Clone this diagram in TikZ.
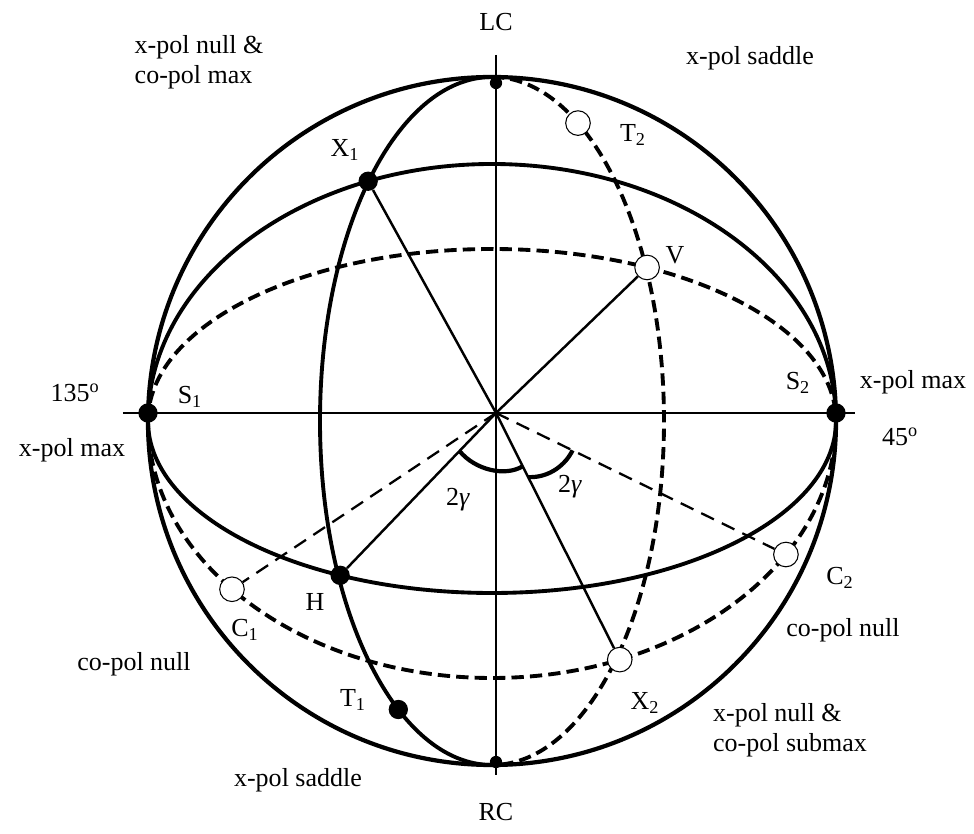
\documentclass[tikz,border=0pt]{standalone}
\usepackage{fontspec}
\setmainfont{Liberation Serif}
\usetikzlibrary{calc}

\begin{document}
\begin{tikzpicture}[
    x=0.02cm, y=0.02cm,
    font=\fontsize{14.8}{17}\selectfont,
    rim/.style={line width=2.4pt},
    front/.style={line width=2.2pt},
    back/.style={line width=2.2pt, dash pattern=on 7pt off 3.5pt},
    axis/.style={line width=1.6pt},
    spoke/.style={line width=1.4pt},
    hidden/.style={line width=1.3pt, dash pattern=on 8pt off 5pt},
    anglearc/.style={line width=2.4pt},
    fullpt/.style={circle, fill=black, inner sep=0pt, minimum size=11pt},
    openpt/.style={circle, draw=black, fill=white, line width=0.6pt,
                   inner sep=0pt, minimum size=14pt},
    pole/.style={circle, fill=black, inner sep=0pt, minimum size=7pt},
]
    \useasboundingbox (-492,-413) rectangle (482,421);

    % Sphere and great circles
    \coordinate (C) at (0,0);
    \coordinate (O) at (4,8);
    \draw[rim] (C) circle[radius=344];
    \draw[front] (-344,0) arc[start angle=180, end angle=0, x radius=344, y radius=257];
    \draw[back]  (344,0) arc[start angle=0, end angle=-180, x radius=344, y radius=257];
    \draw[back]  (-344,0) arc[start angle=180, end angle=0, x radius=344, y radius=172];
    \draw[front] (344,0) arc[start angle=0, end angle=-180, x radius=344, y radius=172];
    \draw[front] (0,344) arc[start angle=90, end angle=270, x radius=172, y radius=344];
    \draw[back]  (0,344) arc[start angle=90, end angle=-90, x radius=172, y radius=344];

    % Axes
    \coordinate (west) at (-369,8);
    \coordinate (east) at (363,8);
    \coordinate (north) at (4,366);
    \coordinate (south) at (4,-354);
    \draw[axis] (west) -- (east);
    \draw[axis] (north) -- (south);

    % Polarisation points
    \node[fullpt] (S1) at (-344,8) {};
    \node[fullpt] (S2) at (344,8) {};
    \node[pole] (LC) at (4,338) {};
    \node[pole] (RC) at (4,-341) {};
    \node[fullpt] (X1) at (111.1:344 and 257) {};
    \node[openpt] (C1) at (220.9:344 and 257) {};
    \node[openpt] (X2) at (291.8:344 and 257) {};
    \node[openpt] (C2) at (328.7:344 and 257) {};
    \node[openpt] (V) at (63.2:344 and 172) {};
    \node[fullpt] (H) at (243.8:344 and 172) {};
    \node[fullpt] (T1) at (237:172 and 344) {};
    \node[openpt] (T2) at (60:172 and 344) {};

    % Spokes from the centre
    \draw[spoke] (O) -- (X1);
    \draw[spoke] (O) -- (V);
    \draw[spoke] (O) -- (H);
    \draw[spoke] (O) -- (X2);
    \draw[hidden] (O) -- (C1);
    \draw[hidden] (O) -- (C2);

    % 2 gamma arcs
    \draw[anglearc] ($(O)!0.234!(H)$) .. controls (-17,-49) and (13,-56) .. ($(O)!0.216!(X2)$);
    \draw[anglearc] ($(O)!0.26!(X2)$) .. controls (58,-57) and (74,-43) .. ($(O)!0.264!(C2)$);
    \node (g1) at (-34,-79) {2\textit{γ}};
    \node (g2) at (78,-66) {2\textit{γ}};

    % Labels
    \node (lcl) at (4,399) {LC};
    \node (rcl) at (4,-391) {RC};
    \node (s1l) at (-302,24) {S\textsubscript{1}};
    \node (s2l) at (306,38) {S\textsubscript{2}};
    \node (x1l) at (-147,271) {X\textsubscript{1}};
    \node (x2l) at (153,-282) {X\textsubscript{2}};
    \node (t1l) at (-139,-279) {T\textsubscript{1}};
    \node (t2l) at (141,286) {T\textsubscript{2}};
    \node (c1l) at (-247,-209) {C\textsubscript{1}};
    \node (c2l) at (348,-157) {C\textsubscript{2}};
    \node (hl) at (-177,-181) {H};
    \node (vl) at (183,166) {V};
    \node (deg135) at (-417,28) {135\textsuperscript{o}};
    \node (deg45) at (408,-16) {45\textsuperscript{o}};
    \node (maxl) at (-420,-29) {x-pol max};
    \node (maxr) at (421,39) {x-pol max};
    \node[align=left] (nulltop) at (-293,359) {x-pol null \&\\co-pol max};
    \node (saddletop) at (258,363) {x-pol saddle};
    \node (saddlebot) at (-194,-359) {x-pol saddle};
    \node (copoll) at (-358,-243) {co-pol null};
    \node (copolr) at (351,-209) {co-pol null};
    \node[align=left] (nullbot) at (298,-309) {x-pol null \&\\co-pol submax};
\end{tikzpicture}
\end{document}
